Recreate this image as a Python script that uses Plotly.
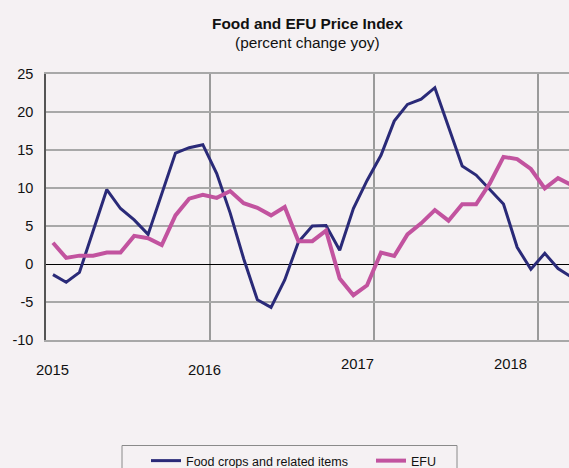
import plotly.graph_objects as go

# ---- data ----
months = [f"{y}-{m:02d}" for y in (2015, 2016, 2017, 2018) for m in range(1, 13)][:39]

food_crops = [-1.4, -2.4, -1.1, 4.5, 9.8, 7.3, 5.8, 3.9, 9.3, 14.6, 15.3, 15.7,
              11.9, 6.7, 0.7, -4.7, -5.7, -2.1, 2.9, 5.0, 5.05, 1.8, 7.3, 11.0,
              14.3, 18.8, 21.0, 21.7, 23.2, 18.1, 12.9, 11.7, 9.8, 7.9, 2.2, -0.7,
              1.4, -0.6, -1.7]

efu = [2.8, 0.8, 1.1, 1.1, 1.5, 1.5, 3.7, 3.4, 2.5, 6.4, 8.6, 9.1,
       8.7, 9.6, 8.0, 7.4, 6.4, 7.5, 3.0, 3.0, 4.4, -1.9, -4.1, -2.8,
       1.5, 1.05, 3.9, 5.35, 7.1, 5.7, 7.85, 7.85, 10.6, 14.1, 13.8, 12.5,
       9.95, 11.3, 10.4]

series_names = ["Food crops and related items", "EFU"]
year_labels = ["2015", "2016", "2017", "2018"]
year_label_pos = ["2015-01-16", "2015-12-21", "2016-11-25", "2017-11-01"]
year_label_shift = [-30, -30, -24, -24]
year_grid = ["2016-01-01", "2017-01-01", "2018-01-01"]
y_ticks = [-10, -5, 0, 5, 10, 15, 20, 25]
y_tick_labels = ["-10", "-5", "0", "5", "10", "15", "20", "25"]

BG = "#f5f1f3"
FONT = "Arial, Liberation Sans, sans-serif"
TXT = "#111111"

# plot area in pixels: left 46, top 74, bottom 340, right 569
def py(px):  # pixel row -> paper y
    return (340 - px) / 266

def pxx(px):  # pixel column -> paper x
    return (px - 46) / 523

fig = go.Figure()
fig.add_trace(go.Scatter(x=months, y=food_crops, name=series_names[0], mode="lines",
                         xperiod="M1", xperiodalignment="middle",
                         line=dict(color="#2a2a78", width=3)))
fig.add_trace(go.Scatter(x=months, y=efu, name=series_names[1], mode="lines",
                         xperiod="M1", xperiodalignment="middle",
                         line=dict(color="#c2539f", width=4)))

for lab, pos, sh in zip(year_labels, year_label_pos, year_label_shift):
    fig.add_annotation(x=pos, y=-10, xref="x", yref="y", text=lab, showarrow=False,
                       yshift=sh, font=dict(size=14.8, color=TXT, family=FONT))

fig.add_annotation(x=0.5, y=py(23), xref="paper", yref="paper",
                   xanchor="center", yanchor="middle",
                   text="<b>Food and EFU Price Index</b>", showarrow=False,
                   font=dict(size=15.4, color=TXT, family=FONT))
fig.add_annotation(x=0.5, y=py(42), xref="paper", yref="paper",
                   xanchor="center", yanchor="middle",
                   text="(percent change yoy)", showarrow=False,
                   font=dict(size=15.4, color=TXT, family=FONT))

# legend frame
fig.add_shape(type="rect", xref="paper", yref="paper",
              x0=pxx(122), x1=pxx(457), y0=py(445.5), y1=py(500),
              line=dict(color="#8a8a8a", width=1), fillcolor=BG, layer="below")

fig.update_layout(
    width=569, height=468,
    margin=dict(l=46, r=0, t=74, b=128, autoexpand=False),
    paper_bgcolor=BG, plot_bgcolor=BG,
    font=dict(family=FONT, size=12.5, color=TXT),
    showlegend=True,
    legend=dict(orientation="h", x=pxx(146), y=py(446),
                xanchor="left", yanchor="top", bgcolor="rgba(0,0,0,0)",
                borderwidth=0, font=dict(size=12.5, family=FONT, color=TXT),
                entrywidth=180),
    xaxis=dict(type="date", range=["2015-01-01", "2018-03-11 12:00"],
               tickvals=year_grid, showticklabels=False, ticks="",
               showgrid=True, gridcolor="#9a9a9a", gridwidth=1.5,
               showline=True, mirror=True, linecolor="#a8a8a8", linewidth=2,
               zeroline=False),
    yaxis=dict(range=[-10, 25], tickvals=y_ticks, ticktext=y_tick_labels,
               ticks="", ticklabelstandoff=8,
               tickfont=dict(size=14.5, family=FONT, color=TXT),
               showgrid=True, gridcolor="#a8a8a8", gridwidth=2,
               zeroline=True, zerolinecolor="#000000", zerolinewidth=1,
               showline=True, linecolor="#555555", linewidth=1.5),
)

fig.write_html("out.html", config={"displayModeBar": False},
               post_script="document.body.style.margin='0';document.body.style.overflow='hidden';")
